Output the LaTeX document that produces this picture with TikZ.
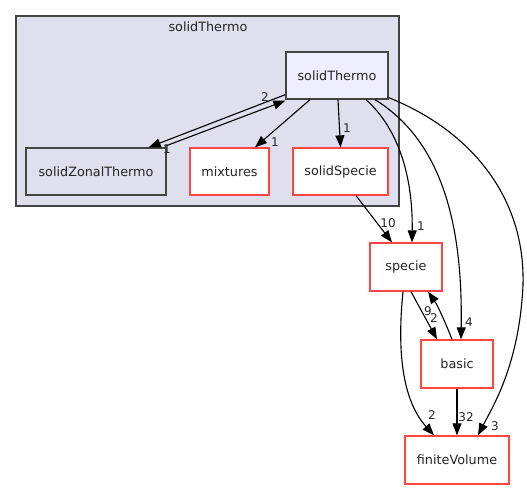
\documentclass[tikz,border=0pt]{standalone}
\usepackage{fontspec}
\setmainfont{DejaVu Sans}
\usetikzlibrary{arrows.meta}
\definecolor{clfill}{HTML}{DFDFEE}
\definecolor{clborder}{HTML}{444444}
\definecolor{stfill}{HTML}{EEEEFF}
\definecolor{redb}{HTML}{FF4444}
\tikzset{
  box/.style={draw, line width=1.3pt, minimum height=47pt, inner sep=0pt, font=\fontsize{12.8}{15}\selectfont, text=black!85},
  dirbox/.style={box, draw=clborder},
  redbox/.style={box, draw=redb, fill=white, minimum height=48pt},
  edge/.style={draw=black, line width=1.1pt, -{Triangle[length=12pt,width=9pt]}},
  elabel/.style={font=\fontsize{12}{14}\selectfont, inner sep=0pt, text=black!85}
}
\begin{document}
\begin{tikzpicture}[x=1pt,y=-1pt]
\useasboundingbox (0,0) rectangle (527,489);
% cluster
\node[draw=clborder, fill=clfill, line width=1.3pt, minimum width=383pt, minimum height=190pt, inner sep=0pt] (cl) at (207.5,111) {};
\node[font=\fontsize{12.8}{15}\selectfont, text=black!85] (cltitle) at (208,27) {solidThermo};
% nodes
\node[dirbox, fill=stfill, minimum width=102pt] (st) at (337,75.5) {solidThermo};
\node[dirbox, fill=clfill, minimum width=140pt] (zt) at (96,171.5) {solidZonalThermo};
\node[redbox, minimum width=79pt, minimum height=47pt] (mix) at (229.5,171.5) {mixtures};
\node[redbox, minimum width=95pt, minimum height=47pt] (ss) at (340.5,171.5) {solidSpecie};
\node[redbox, minimum width=72pt] (sp) at (406,267) {specie};
\node[redbox, minimum width=72pt] (ba) at (457,364) {basic};
\node[redbox, minimum width=104pt] (fv) at (457,460) {finiteVolume};
% edges
\draw[edge] ([yshift=5pt]st.south west) -- ([xshift=-18pt]zt.north east);
\draw[edge] ([xshift=-2pt,yshift=1pt]zt.north east) -- ([yshift=-1pt]st.south west);
\draw[edge] ([xshift=-27pt]st.south) -- ([xshift=25.5pt]mix.north);
\draw[edge] ([xshift=1pt]st.south) -- (ss.north);
\draw[edge] ([xshift=15.5pt]ss.south) -- ([xshift=-14pt]sp.north);
\draw[edge] ([xshift=29pt]st.south) .. controls (400,130) and (413,180) .. ([xshift=6pt]sp.north);
\draw[edge] ([xshift=38pt]st.south) .. controls (440,140) and (463,220) .. ([xshift=4pt]ba.north);
\draw[edge] ([yshift=2pt]st.south east) .. controls (470,130) and (532,200) .. (522,300) .. controls (516,370) and (492,408) .. ([xshift=21pt]fv.north);
\draw[edge] ([xshift=5pt]sp.south) -- ([xshift=-20pt]ba.north);
\draw[edge] ([xshift=-5pt]ba.north) .. controls (446,324) and (438,306) .. ([xshift=22pt]sp.south);
\draw[edge] ([xshift=-3pt]sp.south) .. controls (397,350) and (402,400) .. ([xshift=-23pt]fv.north);
\draw[edge] (ba.south) -- (fv.north);
% labels
\node[elabel] (l1) at (265,97) {2};
\node[elabel] (l2) at (167,149) {1};
\node[elabel] (l3) at (275,142) {1};
\node[elabel] (l4) at (347,128) {1};
\node[elabel] (l5) at (388,223) {10};
\node[elabel] (l6) at (421,226) {1};
\node[elabel] (l7) at (469,322) {4};
\node[elabel] (l8) at (495,426) {3};
\node[elabel] (l9) at (428,311) {9};
\node[elabel] (l10) at (434,318) {2};
\node[elabel] (l11) at (432,415) {2};
\node[elabel] (l12) at (466,417) {32};
\end{tikzpicture}
\end{document}
